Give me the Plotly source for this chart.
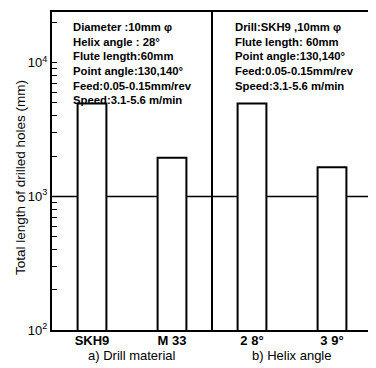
import plotly.graph_objects as go

categories = ["SKH9", "M 33", "2 8°", "3 9°"]
lengths = [4950, 1950, 4950, 1650]
group_labels = ["a) Drill material", "b) Helix angle"]
y_title = "Total length of drilled holes (mm)"
ref_value = 1000
decade_vals = [100, 1000, 10000]
decade_text = ["10<sup>2</sup>", "10<sup>3</sup>", "10<sup>4</sup>"]
left_notes = ["Diameter :10mm φ", "Helix angle : 28°", "Flute length:60mm",
              "Point angle:130,140°", "Feed:0.05-0.15mm/rev", "Speed:3.1-5.6 m/min"]
right_notes = ["Drill:SKH9 ,10mm φ", "Flute length: 60mm", "Point angle:130,140°",
               "Feed:0.05-0.15mm/rev", "Speed:3.1-5.6 m/min"]

tickvals = []
ticktext = []
for d in decade_vals:
    for m in range(1, 10):
        v = d * m
        if v > 24000:
            break
        tickvals.append(v)
        ticktext.append(decade_text[decade_vals.index(d)] if m == 1 else "")

FONT = "Liberation Sans"

fig = go.Figure()
fig.add_trace(go.Bar(
    x=categories, y=lengths, width=0.36,
    marker=dict(color="white", line=dict(color="black", width=2)),
))

fig.add_shape(type="line", xref="paper", x0=0, x1=1, yref="y", y0=ref_value, y1=ref_value,
              line=dict(color="black", width=1.5), layer="below")
fig.add_shape(type="line", xref="x", x0=1.5, x1=1.5, yref="paper", y0=0, y1=1,
              line=dict(color="black", width=2))

fig.add_annotation(xref="paper", yref="paper", x=0.058, y=0.978, xanchor="left", yanchor="top",
                   text="<br>".join(left_notes), align="left", showarrow=False,
                   font=dict(family=FONT, size=11.3, color="black", weight="bold"))
fig.add_annotation(xref="paper", yref="paper", x=0.565, y=0.978, xanchor="left", yanchor="top",
                   text="<br>".join(right_notes), align="left", showarrow=False,
                   font=dict(family=FONT, size=11.3, color="black", weight="bold"))
for i, g in enumerate(group_labels):
    fig.add_annotation(xref="x", yref="paper", x=0.5 + 2 * i, y=-0.08, yanchor="middle",
                       text=g, showarrow=False,
                       font=dict(family=FONT, size=13, color="black"))
fig.add_annotation(xref="paper", yref="paper", x=-0.098, y=0.48, xanchor="center",
                   yanchor="middle", textangle=-90, text=y_title, showarrow=False,
                   font=dict(family=FONT, size=13.5, color="black"))

fig.update_layout(
    width=368, height=360,
    margin=dict(l=44, r=2, t=4, b=38),
    plot_bgcolor="white", paper_bgcolor="white",
    showlegend=False,
    font=dict(family=FONT, size=12, color="black"),
)
fig.update_xaxes(range=[-0.5, 3.5], showline=True, linecolor="black", linewidth=2, mirror=True,
                 ticks="", showgrid=False, ticklabelstandoff=-3,
                 tickfont=dict(size=13, weight="bold"))
fig.update_yaxes(type="log", range=[2, 4.38], showline=True, linecolor="black", linewidth=2,
                 mirror=True, tickvals=tickvals, ticktext=ticktext, ticks="inside", ticklen=5,
                 tickcolor="black", showgrid=False, zeroline=False,
                 tickfont=dict(size=13))

fig.write_html("out.html")
